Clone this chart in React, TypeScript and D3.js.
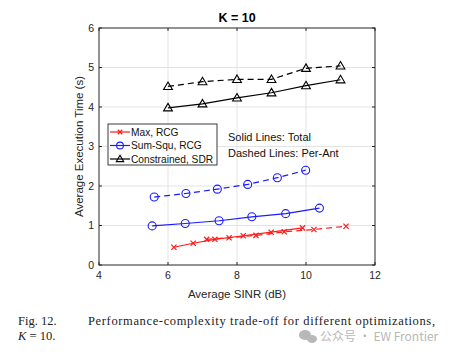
import React from "react";
import * as d3 from "d3";

const xTicks = [4, 6, 8, 10, 12];
const yTicks = [0, 1, 2, 3, 4, 5, 6];

const maxTotalX = [6.17, 6.73, 7.36, 8.18, 8.99, 9.9];
const maxTotalY = [0.45, 0.55, 0.65, 0.74, 0.83, 0.94];
const maxPerX = [7.12, 7.77, 8.55, 9.37, 10.23, 11.16];
const maxPerY = [0.65, 0.69, 0.75, 0.84, 0.9, 0.98];

const sumTotalX = [5.54, 6.5, 7.48, 8.43, 9.41, 10.39];
const sumTotalY = [0.99, 1.05, 1.12, 1.22, 1.3, 1.44];
const sumPerX = [5.6, 6.52, 7.43, 8.31, 9.17, 9.99];
const sumPerY = [1.72, 1.81, 1.92, 2.04, 2.21, 2.4];

const conTotalX = [6, 7, 8, 9, 10, 11];
const conTotalY = [3.98, 4.08, 4.23, 4.36, 4.54, 4.69];
const conPerX = [6, 7, 8, 9, 10, 11];
const conPerY = [4.52, 4.64, 4.7, 4.7, 4.98, 5.04];

const legendLabels = ["Max, RCG", "Sum-Squ, RCG", "Constrained, SDR"];

const W = 452, H = 356;
const L = 99, R = 375, T = 28, B = 265;

const x = d3.scaleLinear().domain([4, 12]).range([L, R]);
const y = d3.scaleLinear().domain([0, 6]).range([B, T]);

type Marker = "x" | "o" | "tri";
const RED = "#ff1a1a", BLUE = "#1a1aff", BLACK = "#000";

function MarkerShape({ type, cx, cy, color, size = 1 }: { type: Marker; cx: number; cy: number; color: string; size?: number }) {
  if (type === "x") {
    const s = 2.6 * size;
    return (
      <path d={`M${cx - s},${cy - s}L${cx + s},${cy + s}M${cx - s},${cy + s}L${cx + s},${cy - s}`} stroke={color} strokeWidth={1.2} fill="none" />
    );
  }
  if (type === "o") {
    return <circle cx={cx} cy={cy} r={4 * size} stroke={color} strokeWidth={1.1} fill="none" />;
  }
  const s = 4.4 * size;
  return (
    <path d={`M${cx},${cy - s}L${cx + s},${cy + s * 0.7}L${cx - s},${cy + s * 0.7}Z`} stroke={color} strokeWidth={1.1} fill="none" />
  );
}

function Series({ xs, ys, color, marker, dashed }: { xs: number[]; ys: number[]; color: string; marker: Marker; dashed?: boolean }) {
  const pts = xs.map((v, i) => [x(v), y(ys[i])] as [number, number]);
  const line = d3.line()(pts) || "";
  return (
    <g>
      <path d={line} fill="none" stroke={color} strokeWidth={1.2} strokeDasharray={dashed ? "6,4" : undefined} />
      {pts.map((p, i) => (
        <MarkerShape key={i} type={marker} cx={p[0]} cy={p[1]} color={color} />
      ))}
    </g>
  );
}

export default function App() {
  const font = "Liberation Sans, Arial, sans-serif";
  const axisColor = "#262626";
  return (
    <svg width={W} height={H} style={{ position: "absolute", left: 0, top: 0, background: "#fff" }} fontFamily={font}>
      <rect x={0} y={0} width={W} height={H} fill="#fff" />
      {xTicks.slice(1, -1).map((t) => (
        <line key={"gx" + t} x1={x(t)} x2={x(t)} y1={T} y2={B} stroke="#e3e3e3" strokeWidth={1} />
      ))}
      {yTicks.slice(1, -1).map((t) => (
        <line key={"gy" + t} x1={L} x2={R} y1={y(t)} y2={y(t)} stroke="#e3e3e3" strokeWidth={1} />
      ))}
      {xTicks.map((t) => (
        <g key={"tx" + t}>
          <line x1={x(t)} x2={x(t)} y1={B} y2={B - 3} stroke={axisColor} />
          <line x1={x(t)} x2={x(t)} y1={T} y2={T + 3} stroke={axisColor} />
          <text x={x(t)} y={B + 14} fontSize={10.5} textAnchor="middle" fill={axisColor}>{t}</text>
        </g>
      ))}
      {yTicks.map((t) => (
        <g key={"ty" + t}>
          <line x1={L} x2={L + 3} y1={y(t)} y2={y(t)} stroke={axisColor} />
          <line x1={R} x2={R - 3} y1={y(t)} y2={y(t)} stroke={axisColor} />
          <text x={L - 5} y={y(t) + 3.7} fontSize={10.5} textAnchor="end" fill={axisColor}>{t}</text>
        </g>
      ))}
      <Series xs={maxTotalX} ys={maxTotalY} color={RED} marker="x" />
      <Series xs={maxPerX} ys={maxPerY} color={RED} marker="x" dashed />
      <Series xs={sumTotalX} ys={sumTotalY} color={BLUE} marker="o" />
      <Series xs={sumPerX} ys={sumPerY} color={BLUE} marker="o" dashed />
      <Series xs={conTotalX} ys={conTotalY} color={BLACK} marker="tri" />
      <Series xs={conPerX} ys={conPerY} color={BLACK} marker="tri" dashed />
      <rect x={L} y={T} width={R - L} height={B - T} fill="none" stroke={axisColor} strokeWidth={1} />
      <text x={(L + R) / 2} y={22} fontSize={12.5} fontWeight="bold" textAnchor="middle" fill="#000">K = 10</text>
      <text x={(L + R) / 2} y={298} fontSize={11.5} textAnchor="middle" fill={axisColor}>Average SINR (dB)</text>
      <text transform={`translate(83,${(T + B) / 2}) rotate(-90)`} fontSize={11.5} textAnchor="middle" fill={axisColor}>Average Execution Time (s)</text>
      <rect x={108} y={124} width={109} height={41} fill="#fff" stroke={axisColor} strokeWidth={0.9} />
      {legendLabels.map((lab, i) => {
        const ly = 132 + i * 13.5;
        const col = [RED, BLUE, BLACK][i];
        const mk = (["x", "o", "tri"] as Marker[])[i];
        return (
          <g key={lab}>
            <line x1={110} x2={130} y1={ly} y2={ly} stroke={col} strokeWidth={1.2} />
            <MarkerShape type={mk} cx={120} cy={ly} color={col} size={0.85} />
            <text x={131} y={ly + 3.6} fontSize={10.2} fill="#111">{lab}</text>
          </g>
        );
      })}
      <text x={228} y={141} fontSize={11} fill="#111">Solid Lines: Total</text>
      <text x={228} y={157} fontSize={11} fill="#111">Dashed Lines: Per-Ant</text>
      <g fontFamily="Liberation Serif, Times New Roman, serif" fontSize={12.5} fill="#222">
        <text x={18} y={325}>Fig. 12.</text>
        <text x={88} y={325} textLength={347} lengthAdjust="spacing">Performance-complexity trade-off for different optimizations,</text>
        <text x={18} y={340}><tspan fontStyle="italic">K</tspan> = 10.</text>
      </g>
      <g fill="#b8b8b8">
        <ellipse cx={305} cy={335} rx={6} ry={5} />
        <ellipse cx={312} cy={339} rx={5} ry={4} />
        <text x={320} y={341} fontSize={12} fontFamily="Noto Sans CJK SC, sans-serif">公众号 · EW Frontier</text>
      </g>
    </svg>
  );
}
